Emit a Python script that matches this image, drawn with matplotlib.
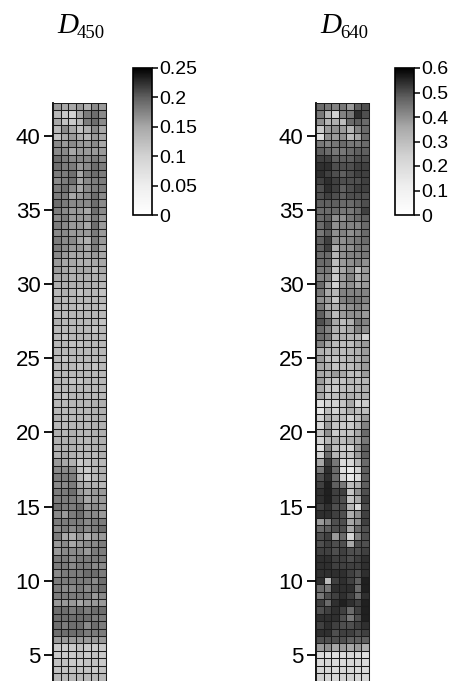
import numpy as np
import matplotlib
matplotlib.use('Agg')
import matplotlib.pyplot as plt
from matplotlib.colors import LinearSegmentedColormap, Normalize
from matplotlib.cm import ScalarMappable

plt.rcParams['font.family'] = ['Liberation Sans', 'DejaVu Sans']

# cell values, hundredths of D, top row first
d450 = [
    [16, 15, 15, 16, 14, 17, 16], [13, 11, 10, 15, 18, 19, 17], [15, 12, 11, 13, 18, 19, 17],
    [13, 17, 15, 12, 14, 17, 15], [12, 15, 16, 14, 13, 16, 15], [17, 16, 17, 16, 16, 17, 15],
    [17, 17, 15, 16, 16, 16, 16], [19, 18, 17, 17, 17, 18, 17], [19, 18, 18, 16, 17, 19, 18],
    [18, 18, 19, 15, 18, 19, 18], [17, 18, 19, 15, 17, 18, 18], [18, 19, 17, 15, 17, 18, 18],
    [18, 18, 15, 16, 17, 19, 17], [19, 18, 17, 17, 17, 19, 17], [18, 17, 16, 16, 15, 19, 17],
    [17, 18, 16, 16, 16, 18, 16], [18, 17, 16, 16, 15, 19, 16], [17, 17, 16, 16, 16, 18, 16],
    [18, 17, 17, 15, 14, 18, 16], [18, 17, 16, 16, 15, 18, 15], [17, 16, 15, 15, 15, 16, 15],
    [16, 15, 15, 14, 14, 15, 15], [16, 15, 14, 15, 15, 13, 15], [15, 15, 14, 14, 14, 14, 14],
    [14, 14, 14, 14, 14, 14, 13], [13, 14, 13, 12, 13, 13, 12], [14, 13, 13, 13, 13, 13, 13],
    [13, 13, 13, 12, 13, 13, 12], [13, 13, 13, 13, 13, 13, 13], [14, 13, 13, 13, 13, 13, 12],
    [13, 13, 13, 13, 13, 12, 13], [13, 12, 13, 13, 13, 13, 13], [13, 13, 12, 12, 13, 13, 13],
    [13, 13, 13, 13, 13, 13, 13], [13, 12, 13, 13, 13, 13, 13], [13, 13, 13, 12, 13, 12, 13],
    [13, 13, 13, 13, 13, 13, 13], [13, 13, 12, 12, 13, 13, 13], [13, 13, 13, 13, 13, 13, 13],
    [13, 12, 13, 13, 13, 13, 13], [13, 13, 13, 13, 13, 14, 14], [13, 13, 13, 13, 13, 14, 14],
    [14, 13, 13, 13, 13, 14, 14], [13, 13, 13, 13, 13, 14, 14], [14, 13, 14, 13, 13, 14, 14],
    [14, 14, 14, 13, 13, 14, 14], [14, 14, 14, 13, 13, 14, 14], [14, 15, 14, 13, 13, 13, 14],
    [16, 15, 14, 11, 12, 13, 13], [17, 17, 17, 12, 11, 13, 14], [18, 18, 18, 13, 11, 13, 14],
    [17, 17, 18, 15, 14, 14, 13], [18, 18, 19, 16, 15, 16, 16], [18, 18, 18, 17, 15, 16, 16],
    [19, 18, 18, 19, 16, 17, 16], [17, 16, 18, 19, 17, 17, 16], [18, 18, 18, 18, 17, 18, 18],
    [17, 18, 17, 18, 17, 18, 19], [18, 15, 14, 16, 14, 16, 16], [16, 17, 15, 16, 17, 17, 18],
    [16, 17, 17, 17, 16, 18, 18], [18, 18, 17, 18, 18, 18, 18], [18, 18, 17, 18, 18, 17, 17],
    [17, 18, 18, 18, 19, 19, 18], [18, 18, 18, 18, 18, 17, 19], [18, 17, 17, 18, 17, 18, 19],
    [18, 18, 18, 18, 18, 16, 17], [16, 16, 16, 15, 16, 16, 16], [19, 19, 18, 19, 18, 19, 19],
    [19, 19, 19, 19, 19, 18, 18], [19, 18, 19, 19, 17, 19, 18], [19, 19, 19, 19, 18, 18, 18],
    [16, 16, 16, 16, 16, 16, 16], [11, 11, 11, 12, 11, 11, 11], [11, 11, 11, 12, 11, 12, 11],
    [12, 12, 11, 11, 12, 12, 11], [12, 12, 12, 12, 12, 11, 12], [13, 13, 13, 13, 13, 13, 13],
]

d640 = [
    [46, 44, 42, 44, 38, 48, 50], [44, 32, 24, 42, 44, 54, 50], [40, 32, 34, 30, 46, 48, 46],
    [26, 38, 40, 38, 32, 42, 46], [18, 40, 38, 40, 30, 36, 46], [44, 42, 44, 46, 44, 44, 46],
    [48, 46, 44, 44, 46, 48, 48], [52, 52, 48, 48, 48, 50, 50], [54, 54, 50, 50, 50, 52, 52],
    [54, 52, 50, 48, 50, 52, 52], [52, 54, 52, 50, 50, 50, 52], [50, 54, 52, 48, 50, 52, 52],
    [50, 52, 50, 48, 50, 50, 50], [48, 48, 48, 46, 46, 48, 50], [46, 46, 46, 44, 44, 46, 52],
    [46, 48, 40, 40, 44, 46, 48], [46, 50, 40, 42, 42, 42, 46], [44, 48, 40, 42, 40, 42, 46],
    [48, 52, 40, 40, 42, 44, 46], [48, 52, 34, 40, 40, 44, 44], [46, 46, 32, 40, 42, 42, 44],
    [46, 46, 30, 38, 40, 42, 40], [44, 44, 28, 36, 40, 30, 38], [42, 42, 26, 38, 42, 34, 38],
    [46, 36, 24, 38, 40, 36, 38], [44, 36, 32, 42, 42, 42, 42], [40, 38, 28, 42, 44, 44, 42],
    [44, 36, 34, 38, 40, 42, 40], [48, 40, 30, 38, 40, 40, 38], [50, 46, 36, 30, 34, 44, 42],
    [46, 42, 34, 32, 36, 42, 40], [46, 44, 32, 34, 32, 32, 24], [42, 36, 30, 30, 30, 36, 38],
    [34, 32, 32, 30, 32, 34, 38], [38, 30, 28, 30, 32, 34, 38], [36, 34, 28, 30, 30, 34, 38],
    [36, 34, 38, 36, 30, 30, 38], [38, 30, 28, 28, 32, 30, 32], [36, 28, 26, 30, 30, 32, 34],
    [36, 28, 30, 32, 34, 32, 34], [18, 24, 24, 28, 36, 22, 26], [16, 30, 24, 28, 34, 30, 30],
    [24, 34, 30, 30, 24, 30, 38], [22, 38, 28, 26, 26, 32, 42], [28, 40, 26, 28, 28, 36, 46],
    [24, 32, 34, 30, 34, 36, 44], [18, 42, 30, 26, 24, 38, 48], [24, 46, 32, 28, 28, 38, 48],
    [36, 52, 44, 20, 22, 32, 46], [44, 54, 46, 18, 14, 24, 48], [50, 54, 46, 24, 14, 20, 48],
    [52, 56, 48, 44, 30, 34, 48], [54, 56, 52, 52, 28, 40, 50], [54, 56, 52, 50, 28, 36, 52],
    [52, 54, 50, 50, 32, 20, 50], [54, 54, 52, 50, 34, 40, 52], [38, 42, 50, 50, 36, 40, 52],
    [46, 48, 50, 50, 36, 46, 50], [50, 52, 38, 46, 22, 42, 50], [50, 52, 50, 50, 36, 50, 50],
    [52, 52, 50, 52, 50, 50, 52], [54, 54, 52, 52, 50, 52, 54], [54, 54, 52, 52, 52, 52, 54],
    [54, 54, 54, 54, 52, 50, 54], [54, 30, 52, 54, 52, 48, 56], [46, 44, 54, 54, 54, 46, 56],
    [44, 50, 52, 54, 52, 46, 54], [52, 46, 54, 56, 54, 52, 56], [50, 52, 54, 52, 46, 52, 56],
    [54, 54, 54, 50, 44, 50, 56], [52, 54, 52, 50, 50, 52, 54], [54, 54, 50, 52, 52, 50, 52],
    [50, 50, 50, 50, 48, 48, 48], [38, 40, 36, 38, 36, 38, 34], [20, 18, 18, 20, 22, 20, 18],
    [20, 22, 20, 20, 22, 22, 20], [22, 22, 20, 22, 22, 20, 20], [24, 22, 22, 24, 24, 22, 22],
]

y_ticks = [5, 10, 15, 20, 25, 30, 35, 40]
cb_ticks_450 = [0, 0.05, 0.1, 0.15, 0.2, 0.25]
cb_labels_450 = ['0', '0.05', '0.1', '0.15', '0.2', '0.25']
cb_ticks_640 = [0, 0.1, 0.2, 0.3, 0.4, 0.5, 0.6]
cb_labels_640 = ['0', '0.1', '0.2', '0.3', '0.4', '0.5', '0.6']

W, H = 453, 681
grays = LinearSegmentedColormap.from_list('grays', [
    (0.0, '#ffffff'), (0.2, '#eeeeee'), (0.4, '#d2d2d2'),
    (0.6, '#a8a8a8'), (0.8, '#606060'), (1.0, '#000000')])


def px_axes(fig, left, top, right, bottom):
    return fig.add_axes([left / W, 1 - bottom / H, (right - left) / W, (bottom - top) / H])


def panel(fig, left, data, vmax, cb_left, cb_ticks, cb_labels, sub):
    ax = px_axes(fig, left, 103, left + 53, 680.5)
    vals = np.array(data) / 100.0
    x_edges = np.arange(8)
    y_edges = 42.25 - 0.5 * np.arange(79)
    ax.pcolormesh(x_edges, y_edges, vals, cmap=grays, vmin=0, vmax=vmax)
    ax.set_xlim(0, 7)
    ax.set_ylim(3.25, 42.25)
    ax.set_xticks([])
    ax.set_yticks(y_ticks)
    # cell outlines as a minor grid
    ax.set_xticks(x_edges, minor=True)
    ax.set_yticks(y_edges, minor=True)
    ax.grid(which='minor', color='#1c1c1c', linewidth=0.75)
    ax.set_axisbelow(False)
    ax.tick_params(axis='y', which='minor', length=0)
    ax.tick_params(axis='x', which='minor', length=0)
    ax.tick_params(axis='y', which='major', length=6.5, width=1.3, labelsize=16, pad=2.5)
    for s in ['top', 'bottom']:
        ax.spines[s].set_visible(False)
    ax.spines['right'].set_linewidth(0.75)
    ax.spines['right'].set_color('#1c1c1c')
    ax.spines['left'].set_linewidth(1.3)

    cax = px_axes(fig, cb_left, 68, cb_left + 19, 215)
    sm = ScalarMappable(norm=Normalize(0, vmax), cmap=grays)
    cb = fig.colorbar(sm, cax=cax)
    cb.set_ticks(cb_ticks)
    cb.set_ticklabels(cb_labels)
    cb.ax.tick_params(length=4.5, width=1.1, labelsize=14, pad=1)
    cb.outline.set_linewidth(1.2)

    fig.text((left + 4) / W, 1 - 33 / H, 'D', family='Liberation Serif', style='italic', fontsize=21)
    fig.text((left + 24) / W, 1 - 38 / H, sub, family='Liberation Serif', fontsize=13.5)


fig = plt.figure(figsize=(W / 100, H / 100), dpi=100)
panel(fig, 53, d450, 0.25, 133, cb_ticks_450, cb_labels_450, '450')
panel(fig, 316, d640, 0.6, 395, cb_ticks_640, cb_labels_640, '640')
fig.savefig('out.png', dpi=100)
